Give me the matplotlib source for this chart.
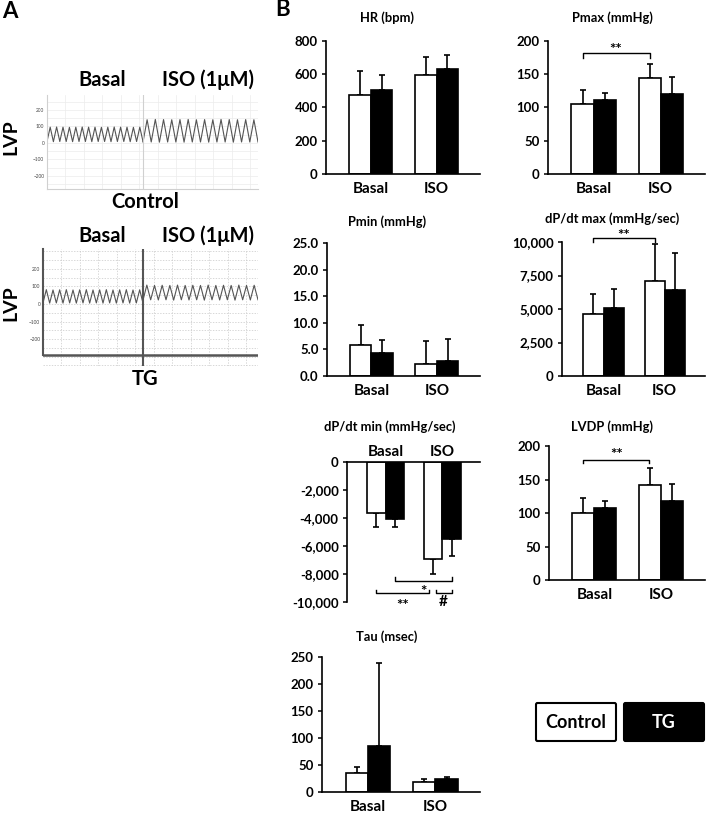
import numpy as np
import matplotlib
matplotlib.use('Agg')
import matplotlib.pyplot as plt
from matplotlib.patches import FancyBboxPatch
from matplotlib.ticker import FuncFormatter

plt.rcParams['font.family'] = ['Lato', 'DejaVu Sans']
plt.rcParams['font.weight'] = 'bold'

W, H = 706, 814

# ---- panel A: LV pressure traces (peak / trough per beat) ----
ctrl_basal_peaks = [95, 96, 95, 94, 95, 96, 95, 95, 94, 95, 96, 95, 95, 94, 95]
ctrl_basal_troughs = [8, 7, 8, 8, 7, 8, 8, 7, 8, 8, 7, 8, 8, 7, 8, 8]
ctrl_iso_peaks = [140, 142, 141, 140, 141, 142, 140, 141, 140, 142, 141, 140, 141, 140]
ctrl_iso_troughs = [5, 5, 4, 5, 5, 4, 5, 5, 4, 5, 5, 4, 5, 5, 5]
tg_basal_peaks = [82, 80, 81, 82, 80, 81, 82, 80, 81, 82, 80, 81, 82, 80, 81]
tg_basal_troughs = [6, 5, 6, 5, 6, 5, 6, 5, 6, 5, 6, 5, 6, 5, 6, 5]
tg_iso_peaks = [108, 106, 107, 106, 108, 106, 107, 106, 108, 106, 107, 106, 108, 106, 107]
tg_iso_troughs = [22, 24, 23, 24, 22, 24, 23, 24, 22, 24, 23, 24, 22, 24, 23, 24]
trace_ticks = [200, 100, 0, -100, -200]

# ---- panel B: hemodynamics, mean and upper SD ----
groups = ['Basal', 'ISO']
hr_ctrl, hr_ctrl_sd = [475, 597], [147, 108]
hr_tg, hr_tg_sd = [508, 632], [87, 85]
pmax_ctrl, pmax_ctrl_sd = [105, 144], [22, 22]
pmax_tg, pmax_tg_sd = [111, 120], [11, 26]
pmin_ctrl, pmin_ctrl_sd = [5.8, 2.2], [3.7, 4.3]
pmin_tg, pmin_tg_sd = [4.4, 2.9], [2.4, 4.0]
dpmax_ctrl, dpmax_ctrl_sd = [4630, 7090], [1470, 2740]
dpmax_tg, dpmax_tg_sd = [5100, 6420], [1370, 2780]
dpmin_ctrl, dpmin_ctrl_sd = [-3620, -6950], [1050, 1070]
dpmin_tg, dpmin_tg_sd = [-4070, -5520], [600, 1190]
lvdp_ctrl, lvdp_ctrl_sd = [100, 142], [22, 25]
lvdp_tg, lvdp_tg_sd = [107, 118], [11, 26]
tau_ctrl, tau_ctrl_sd = [34.6, 19], [12, 4.5]
tau_tg, tau_tg_sd = [85, 24], [153, 4]

fig = plt.figure(figsize=(W / 100, H / 100), dpi=100)


def px_axes(l, r, t, b):
    return fig.add_axes([l / W, 1 - b / H, (r - l) / W, (b - t) / H])


def ftext(x, y, s, **kw):
    fig.text(x / W, 1 - y / H, s, ha='center', va='center', **kw)


def trace_xy(peaks, troughs, x0, x1):
    n = len(peaks)
    step = (x1 - x0) / n
    xs, ys = [], []
    for i in range(n):
        xs += [x0 + i * step, x0 + (i + 0.5) * step]
        ys += [troughs[i], peaks[i]]
    xs.append(x1)
    ys.append(troughs[n])
    return xs, ys


def trace_panel(rect, split, ylim, basal, iso, dark):
    l, r, t, b = rect
    ax = px_axes(l, r, t, b)
    ax.set_xlim(0, r - l)
    ax.set_ylim(*ylim)
    gcol = '#c8c8c8' if dark else '#ececec'
    gls = (0, (2, 2)) if dark else '-'
    for gx in np.arange(18, r - l, 18.5):
        ax.axvline(gx, color=gcol, lw=0.5, ls=gls, zorder=0)
    for gy in np.arange(-350, 301, 50):
        ax.axhline(gy, color=gcol, lw=0.5, ls=gls, zorder=0)
    xs, ys = trace_xy(basal[0], basal[1], 0, split - l)
    ax.plot(xs, ys, color='#555555', lw=0.8)
    xs, ys = trace_xy(iso[0], iso[1], split - l, r - l)
    ax.plot(xs, ys, color='#555555', lw=0.8)
    scol = '#555555' if dark else '#d0d0d0'
    ax.axvline(split - l, color=scol, lw=1.5 if dark else 0.8)
    for s in ['top', 'right']:
        ax.spines[s].set_visible(False)
    for s in ['left', 'bottom']:
        ax.spines[s].set_color(scol)
        ax.spines[s].set_linewidth(1.5 if dark else 0.8)
    ax.set_xticks([])
    ax.set_yticks(trace_ticks)
    ax.tick_params(axis='y', length=0, labelsize=3.4, labelcolor='#444444', pad=2)
    for lab in ax.get_yticklabels():
        lab.set_fontweight('normal')
    return ax


# panel A
ftext(10, 11, 'A', fontsize=16)
trace_panel((47, 258, 95, 189), 143, (-280, 290),
            (ctrl_basal_peaks, ctrl_basal_troughs),
            (ctrl_iso_peaks, ctrl_iso_troughs), False)
ax_tg = trace_panel((43, 258, 249, 366), 143, (-354, 314),
                    (tg_basal_peaks, tg_basal_troughs),
                    (tg_iso_peaks, tg_iso_troughs), True)
ax_tg.spines['bottom'].set_visible(False)
ax_tg.spines['left'].set_bounds(-291, 314)
ax_tg.axhline(-291, color='#555555', lw=1.8)
for lbl_y in [80, 236]:
    ftext(102, lbl_y, 'Basal', fontsize=14.5)
    ftext(208, lbl_y, 'ISO (1\u03bcM)', fontsize=14.5)
ftext(11, 137, 'LVP', fontsize=14, rotation=90)
ftext(11, 303, 'LVP', fontsize=14, rotation=90)
ftext(145, 202, 'Control', fontsize=14.5)
ftext(145, 379, 'TG', fontsize=14.5)

# panel B
ftext(283, 10, 'B', fontsize=16)


def bar_panel(rect, title, title_xy, ctrl, ctrl_sd, tg, tg_sd, ylim, yticks,
              fmt, negative=False):
    ax = px_axes(*rect)
    x = np.arange(len(groups))
    w = 0.33
    zeros = [0] * len(groups)
    for off, vals, sd, fc in [(-w / 2, ctrl, ctrl_sd, 'white'),
                              (w / 2, tg, tg_sd, 'black')]:
        ax.bar(x + off, vals, w, color=fc, edgecolor='black', lw=1.2, zorder=2)
        err = [sd, zeros] if negative else [zeros, sd]
        ax.errorbar(x + off, vals, yerr=err, fmt='none', ecolor='black',
                    elinewidth=1.2, capsize=2, capthick=1.2, zorder=1)
    ax.set_xlim(-0.68, 1.66)
    ax.set_ylim(*ylim)
    ax.set_yticks(yticks)
    ax.yaxis.set_major_formatter(FuncFormatter(fmt))
    ax.spines['right'].set_visible(False)
    if negative:
        ax.spines['bottom'].set_visible(False)
        ax.xaxis.tick_top()
    else:
        ax.spines['top'].set_visible(False)
    for s in ['left', 'top', 'bottom']:
        ax.spines[s].set_linewidth(1.2)
    ax.set_xticks(x, groups)
    ax.tick_params(axis='x', length=0, labelsize=11, pad=6 if not negative else 2)
    ax.tick_params(axis='y', length=3, width=1.1, labelsize=9.5, pad=3)
    ftext(title_xy[0], title_xy[1], title, fontsize=9.3)
    return ax


def bracket(ax, x0, x1, y, tick, text, ty, tx=None):
    ax.plot([x0, x0, x1, x1], [y - tick, y, y, y - tick], color='black',
            lw=1.0, clip_on=False)
    ax.text((x0 + x1) / 2 if tx is None else tx, ty, text, ha='center',
            va='center', fontsize=11, clip_on=False)


comma = lambda v, p: f'{v:,.0f}'
plain = lambda v, p: f'{v:.0f}'

bar_panel((326, 480, 41, 174), 'HR (bpm)', (387, 18), hr_ctrl, hr_ctrl_sd,
          hr_tg, hr_tg_sd, (0, 800), [0, 200, 400, 600, 800], plain)
ax = bar_panel((548, 705, 41, 174), 'Pmax (mmHg)', (612, 18), pmax_ctrl,
               pmax_ctrl_sd, pmax_tg, pmax_tg_sd, (0, 200),
               [0, 50, 100, 150, 200], plain)
bracket(ax, -0.165, 0.835, 182, 7, '**', 186)
bar_panel((327, 480, 243, 376), 'Pmin (mmHg)', (387, 222), pmin_ctrl,
          pmin_ctrl_sd, pmin_tg, pmin_tg_sd, (0, 25),
          [0, 5, 10, 15, 20, 25], lambda v, p: f'{v:.1f}')
ax = bar_panel((562, 705, 242, 376), 'dP/dt max (mmHg/sec)', (612, 219),
               dpmax_ctrl, dpmax_ctrl_sd, dpmax_tg, dpmax_tg_sd, (0, 10000),
               [0, 2500, 5000, 7500, 10000], comma)
bracket(ax, -0.165, 0.835, 10300, 280, '**', 10450)
ax = bar_panel((347, 480, 462, 602), 'dP/dt min (mmHg/sec)', (390, 427),
               dpmin_ctrl, dpmin_ctrl_sd, dpmin_tg, dpmin_tg_sd, (-10000, 0),
               [0, -2000, -4000, -6000, -8000, -10000], comma, negative=True)
bracket(ax, 0.17, 1.16, -8500, -290, '*', -9250, tx=0.67)
bracket(ax, -0.165, 0.77, -9360, -220, '**', -10250, tx=0.30)
bracket(ax, 0.88, 1.165, -9360, -220, '#', -10000, tx=1.02)
ax = bar_panel((549, 705, 446, 580), 'LVDP (mmHg)', (612, 427), lvdp_ctrl,
               lvdp_ctrl_sd, lvdp_tg, lvdp_tg_sd, (0, 200),
               [0, 50, 100, 150, 200], plain)
bracket(ax, -0.165, 0.82, 179, 5, '**', 186)
bar_panel((322, 480, 657, 792), 'Tau (msec)', (387, 637), tau_ctrl,
          tau_ctrl_sd, tau_tg, tau_tg_sd, (0, 250),
          [0, 50, 100, 150, 200, 250], plain)

# legend boxes
for (l, r), fc, tc, lab in [((536, 616), 'white', 'black', 'Control'),
                            ((624, 704), 'black', 'white', 'TG')]:
    box = FancyBboxPatch((l / W, 1 - 741 / H), (r - l) / W, 38 / H,
                         boxstyle='round,pad=0,rounding_size=0.002',
                         transform=fig.transFigure, facecolor=fc,
                         edgecolor='black', lw=1.5)
    fig.add_artist(box)
    ftext((l + r) / 2, 722, lab, fontsize=13, color=tc)

fig.savefig('out.png', dpi=100)
